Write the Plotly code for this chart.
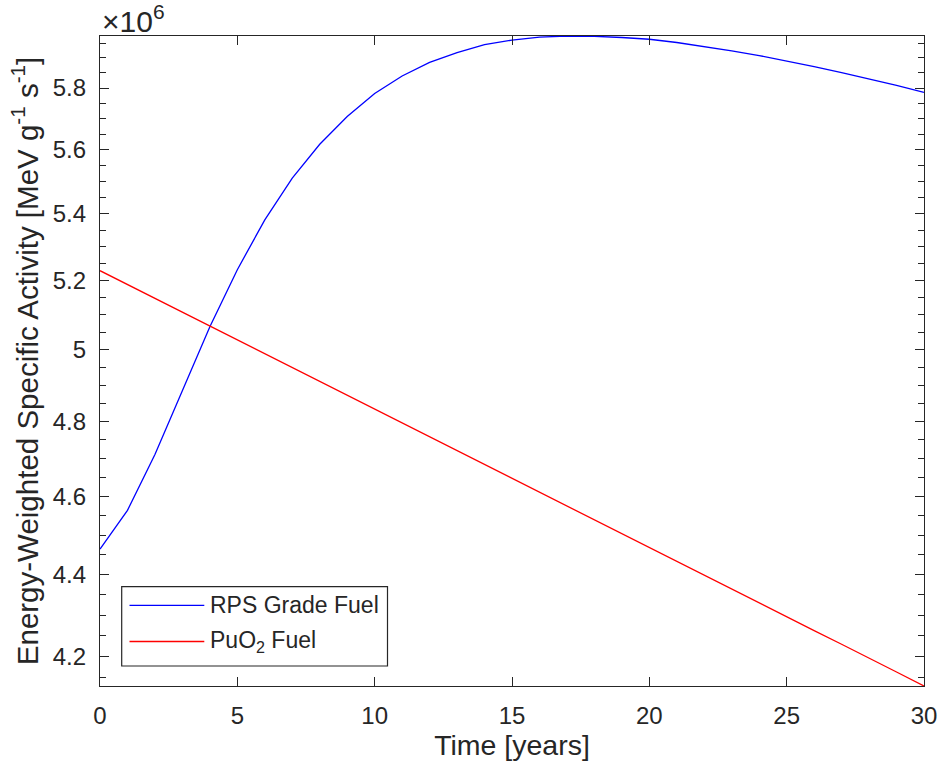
import math
import plotly.graph_objects as go

# Time axis (years)
years = list(range(0, 31))

# Energy-weighted specific activity, in units of 1e6 MeV g^-1 s^-1
rps_grade = [4.465, 4.564, 4.711, 4.887, 5.065, 5.232, 5.382, 5.511, 5.618, 5.707,
             5.782, 5.840, 5.885, 5.918, 5.945, 5.960, 5.970, 5.974, 5.973, 5.969,
             5.963, 5.952, 5.939, 5.924, 5.908, 5.890, 5.871, 5.851, 5.831, 5.809,
             5.786]
puo2 = [5.229, 5.188, 5.148, 5.107, 5.067, 5.028, 4.988, 4.949, 4.910, 4.872,
        4.834, 4.796, 4.759, 4.721, 4.684, 4.648, 4.611, 4.575, 4.539, 4.504,
        4.469, 4.434, 4.399, 4.365, 4.330, 4.297, 4.263, 4.230, 4.196, 4.164,
        4.131]

series_names = ["RPS Grade Fuel", "PuO<sub>2</sub> Fuel"]
series_colors = ["#0000ff", "#ff0000"]

y_major = [4.2, 4.4, 4.6, 4.8, 5.0, 5.2, 5.4, 5.6, 5.8]
y_major_text = ["4.2", "4.4", "4.6", "4.8", "5", "5.2", "5.4", "5.6", "5.8"]
y_minor = [round(4.15 + 0.05 * i, 2) for i in range(37)]
x_ticks = [0, 5, 10, 15, 20, 25, 30]

FONT = "Liberation Sans, Arial, Helvetica, sans-serif"
AX = "#262626"
TICK_SIZE = 24

fig = go.Figure()
for name, vals, col in zip(series_names, [rps_grade, puo2], series_colors):
    fig.add_trace(go.Scatter(x=years, y=vals, mode="lines", name=name,
                             line=dict(color=col, width=1.3), showlegend=False))

ymin = min(rps_grade + puo2)
ymax = max(rps_grade + puo2)

fig.update_layout(
    width=940, height=769,
    margin=dict(l=100, r=16, t=36, b=83),
    paper_bgcolor="white", plot_bgcolor="white",
    font=dict(family=FONT, color=AX, size=TICK_SIZE),
    xaxis=dict(
        range=[0, 30], tickvals=x_ticks, ticks="inside", ticklen=9, tickwidth=1.2,
        tickcolor=AX, showline=True, linecolor=AX, linewidth=1.3, mirror="ticks",
        showgrid=False, zeroline=False, tickfont=dict(size=TICK_SIZE, color=AX),
        ticklabelstandoff=8, automargin=False,
        title=dict(text="Time [years]", font=dict(size=28.5, color=AX), standoff=6),
    ),
    yaxis=dict(
        type="log",
        range=[math.log10(ymin), math.log10(ymax)],
        tickmode="array", tickvals=y_major, ticktext=y_major_text,
        ticks="inside", ticklen=9, tickwidth=1.2, tickcolor=AX,
        showline=True, linecolor=AX, linewidth=1.3, mirror="ticks",
        showgrid=False, zeroline=False, tickfont=dict(size=TICK_SIZE, color=AX),
        ticklabelstandoff=8, automargin=False,
        minor=dict(tickmode="array", tickvals=y_minor, ticks="inside",
                   ticklen=5.5, tickwidth=1.2, tickcolor=AX, showgrid=False),
        title=dict(text="Energy-Weighted Specific Activity [MeV g<sup>-1</sup> s<sup>-1</sup>]",
                   font=dict(size=29.5, color=AX), standoff=5),
    ),
)

# Exponent marker above the y axis
fig.add_annotation(xref="paper", yref="paper", x=0, y=1.0, xanchor="left", yanchor="bottom",
                   xshift=0, yshift=-4, text="\u00d710<sup>6</sup>", showarrow=False,
                   font=dict(size=30, color=AX, family=FONT))

# Legend box drawn in plot-paper coordinates
def px_x(p):
    return (p - 100) / 824.0

def px_y(p):
    return (686 - p) / 650.0

fig.add_shape(type="rect", xref="paper", yref="paper",
              x0=px_x(121.7), x1=px_x(387.5), y0=px_y(666), y1=px_y(586.7),
              line=dict(color=AX, width=1.2), fillcolor="white", layer="above")
for name, col, ypos in zip(series_names, series_colors, [605.3, 641.5]):
    fig.add_shape(type="line", xref="paper", yref="paper",
                  x0=px_x(129.5), x1=px_x(204.3), y0=px_y(ypos), y1=px_y(ypos),
                  line=dict(color=col, width=1.3), layer="above")
    fig.add_annotation(xref="paper", yref="paper", x=px_x(208), y=px_y(ypos),
                       xanchor="left", yanchor="middle", text=name, showarrow=False,
                       font=dict(size=23, color=AX, family=FONT))

fig.write_html("out.html")
